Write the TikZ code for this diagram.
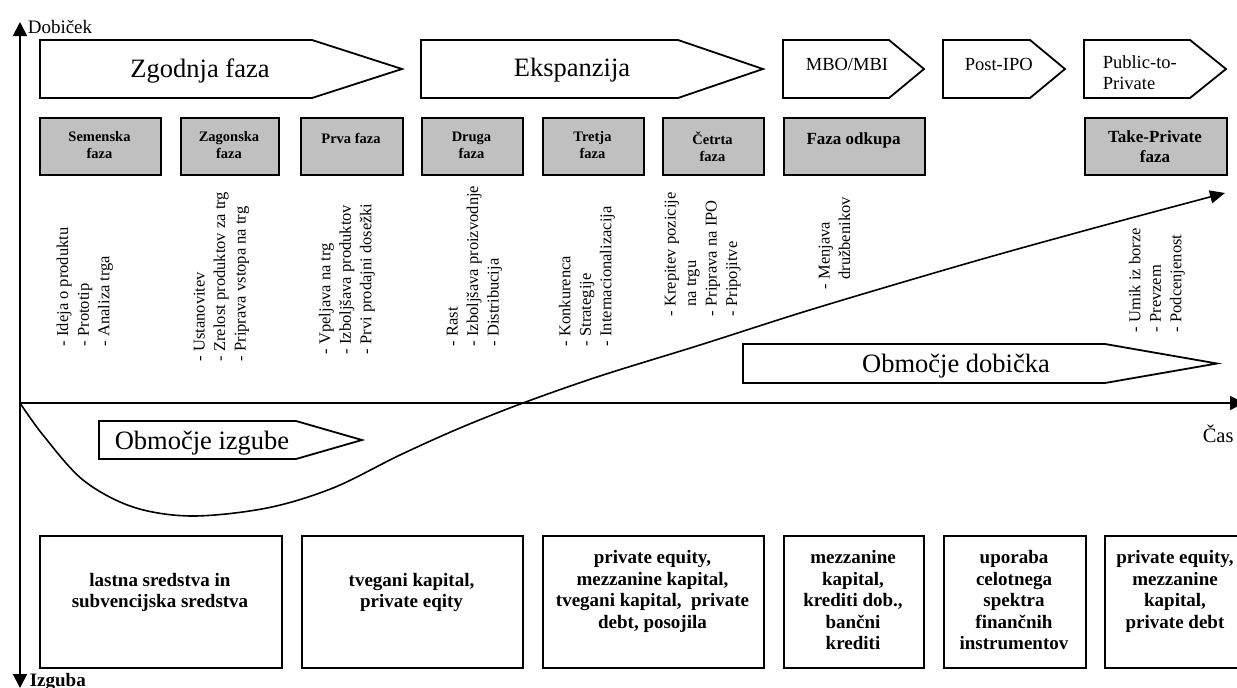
\documentclass[tikz,border=0pt]{standalone}
\usepackage{fontspec}
\setmainfont{Liberation Serif}
\usetikzlibrary{arrows.meta}
\definecolor{boxgray}{HTML}{C0C0C0}
\newcommand\fsz[2]{\fontsize{#1}{#2}\selectfont}
\newcommand\pentagon[6]{% name, x1, x2, x3, y1, y2
  \draw[phase] (#2,#5) -- (#3,#5) -- (#4,{(#5+#6)/2}) -- (#3,#6) -- (#2,#6) -- cycle;
  \coordinate (#1) at ({(#2+#4)/2},{(#5+#6)/2});}
\begin{document}
\begin{tikzpicture}[x=1pt,y=-1pt,line width=1.6pt,
  axis/.style={line width=1.8pt,-{Triangle[length=14pt,width=14pt]}},
  phase/.style={draw,line width=1.8pt,fill=white,line join=miter},
  bigtext/.style={font=\fsz{26.5}{30},inner sep=0},
  smalltext/.style={font=\fsz{18.5}{20.5},align=left,anchor=north west,inner sep=0,execute at begin node=\strut},
  graybox/.style={draw,line width=1.8pt,fill=boxgray,anchor=north west,inner sep=0,minimum height=57pt},
  graytext/.style={font=\bfseries\fsz{14.5}{17},align=center,anchor=north,inner sep=0,execute at begin node=\strut},
  graytextbig/.style={font=\bfseries\fsz{17}{20},align=center,anchor=north,inner sep=0,execute at begin node=\strut},
  listtext/.style={font=\fsz{16.5}{20.5},align=left,rotate=90,anchor=north west,inner sep=0,execute at begin node=\strut},
  finbox/.style={draw,line width=1.8pt,anchor=north west,inner sep=0,minimum height=132pt},
  fintext/.style={font=\bfseries\fsz{19}{21.5},align=center,anchor=north,inner sep=0,execute at begin node=\strut},
  axlabel/.style={font=\fsz{19}{22},inner sep=0,anchor=base west}]
\useasboundingbox (0,0) rectangle (1237,688);

% axes
\coordinate (origin) at (20,403);
\coordinate (ytop) at (20,22);
\coordinate (ybot) at (20,688);
\coordinate (xend) at (1244,403);
\draw[axis] (origin) -- (ytop);
\draw[axis] (origin) -- (ybot);
\draw[axis] (origin) -- (xend);
\node[axlabel] (dobicek) at (27,33) {Dobiček};
\node[axlabel,font=\fsz{20.5}{22}] (cas) at (1202,442) {Čas};
\node[axlabel,font=\bfseries\fsz{19}{22}] (izguba) at (29,686) {Izguba};

% top phase arrows
\pentagon{zg}{40}{312}{402}{40}{98}
\pentagon{ek}{421}{678}{763}{40}{98}
\pentagon{mb}{783}{889}{924}{40}{98}
\pentagon{pi}{943}{1030}{1065}{40}{98}
\pentagon{pp}{1084}{1190}{1226}{40}{98}
\node[bigtext] (zgt) at (200,71) {Zgodnja faza};
\node[bigtext] (ekt) at (572,70) {Ekspanzija};
\node[smalltext] (mbt) at (805,55) {MBO/MBI};
\node[smalltext] (pit) at (964,55) {Post-IPO};
\node[smalltext] (ppt) at (1102,55) {Public-to-\\Private};

% gray phase boxes
\node[graybox,minimum width=121pt] (g1) at (39,117) {};
\node[graybox,minimum width=98pt] (g2) at (180,117) {};
\node[graybox,minimum width=102pt] (g3) at (300,117) {};
\node[graybox,minimum width=101pt] (g4) at (421,117) {};
\node[graybox,minimum width=101pt] (g5) at (542,117) {};
\node[graybox,minimum width=101pt] (g6) at (662,117) {};
\node[graybox,minimum width=141pt] (g7) at (783,117) {};
\node[graybox,minimum width=142pt] (g8) at (1084,117) {};
\node[graytext] (g1t) at (99.5,131) {Semenska\\faza};
\node[graytext] (g2t) at (229,131) {Zagonska\\faza};
\node[graytext] (g3t) at (351,131) {Prva faza};
\node[graytext] (g4t) at (471.5,131) {Druga\\faza};
\node[graytext] (g5t) at (592.5,131) {Tretja\\faza};
\node[graytext] (g6t) at (712.5,131) {Četrta\\faza};
\node[graytextbig] (g7t) at (853.5,130) {Faza odkupa};
\node[graytextbig] (g8t) at (1155,130) {Take-Private\\faza};

% rotated lists
\node[listtext] (l1) at (56,347) {- Ideja o produktu\\- Prototip\\- Analiza trga};
\node[listtext] (l2) at (193,362) {- Ustanovitev\\- Zrelost produktov za trg\\- Priprava vstopa na trg};
\node[listtext] (l3) at (318,355) {- Vpeljava na trg\\- Izboljšava produktov\\- Prvi prodajni dosežki};
\node[listtext] (l4) at (446,347) {- Rast\\- Izboljšava proizvodnje\\- Distribucija};
\node[listtext] (l5) at (558,347) {- Konkurenca\\- Strategije\\- Internacionalizacija};
\node[listtext] (l6) at (664,317) {- Krepitev pozicije\\\phantom{- }na trgu\\- Priprava na IPO\\- Pripojitve};
\node[listtext] (l7) at (818,290) {- Menjava\\\phantom{- }družbenikov};
\node[listtext] (l8) at (1128,333) {- Umik iz borze\\- Prevzem\\- Podcenjenost};

% profit / loss areas
\pentagon{dob}{743}{1105}{1217}{344}{383}
\node[bigtext] (dobt) at (956,366) {Območje dobička};
\pentagon{izg}{99}{296}{362}{421}{459}
\node[bigtext] (izgt) at (202,443) {Območje izgube};

% profit curve
\draw[line width=1.6pt,-{Triangle[length=15pt,width=13pt]}] plot[smooth,tension=0.55] coordinates {
  (20,403) (43,435) (83,480) (133,507) (192,516) (267,508) (333,488) (400,455)
  (460,428) (523,403) (600,376) (700,345) (800,313) (900,283) (1000,254) (1120,221) (1225,193)};

% financing boxes
\node[finbox,minimum width=242pt] (b1) at (39,535) {};
\node[finbox,minimum width=221pt] (b2) at (301,535) {};
\node[finbox,minimum width=221pt] (b3) at (542,535) {};
\node[finbox,minimum width=140pt] (b4) at (783,535) {};
\node[finbox,minimum width=142pt] (b5) at (943,535) {};
\node[finbox,minimum width=142pt] (b6) at (1104,535) {};
\node[fintext] (b1t) at (160,572.5) {lastna sredstva in\\subvencijska sredstva};
\node[fintext] (b2t) at (411.5,572.5) {tvegani kapital,\\private eqity};
\node[fintext] (b3t) at (652.5,550) {private equity,\\mezzanine kapital,\\tvegani kapital,\ \ private\\debt, posojila};
\node[fintext] (b4t) at (853,550) {mezzanine\\kapital,\\krediti dob.,\\bančni\\krediti};
\node[fintext] (b5t) at (1014,550) {uporaba\\celotnega\\spektra\\finančnih\\instrumentov};
\node[fintext] (b6t) at (1175,550) {private equity,\\mezzanine\\kapital,\\private debt};
\end{tikzpicture}
\end{document}
